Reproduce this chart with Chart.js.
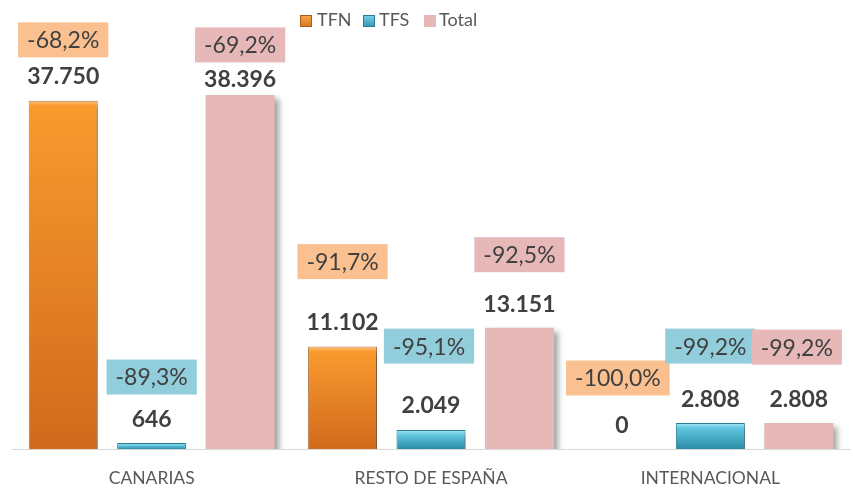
<!DOCTYPE html>
<html><head><meta charset="utf-8">
<script src="https://cdn.jsdelivr.net/npm/chart.js@4/dist/chart.umd.min.js"></script>
<style>html,body{margin:0;padding:0;background:#fff}#wrap{width:853px;height:488px;position:relative}</style>
</head><body><div id="wrap"><canvas id="c"></canvas></div>
<script>
// ---- data ----
const categories = ['CANARIAS', 'RESTO DE ESPAÑA', 'INTERNACIONAL'];
const seriesNames = ['TFN', 'TFS', 'Total'];
const tfnValues = [37750, 11102, 0];
const tfsValues = [646, 2049, 2808];
const totalValues = [38396, 13151, 2808];
const tfnChange = ['-68,2%', '-91,7%', '-100,0%'];
const tfsChange = ['-89,3%', '-95,1%', '-99,2%'];
const totalChange = ['-69,2%', '-92,5%', '-99,2%'];

// ---- label layout (px lifts, manual placement as in reference) ----
const valueLift = [[24, 24, 23], [23, 25, 24], [15, 23, 24]];
const boxGap = [[37, 61, 48], [43, 59, 53], [35, 50, 52]];
const boxShiftX = [[0, 0, -4], [0, -2, 0], [0, 0, -2]];
const boxColors = ['#FAC090', '#92CDDC', '#E6B9B8'];
const changes = [tfnChange, tfsChange, totalChange];

const FONT = 'Lato, "Liberation Sans", sans-serif';

function barGrad(stops, fallback) {
  return function (ctx) {
    const chart = ctx.chart;
    if (!chart.chartArea || ctx.raw === undefined) return fallback;
    const y = chart.scales.y;
    const top = y.getPixelForValue(ctx.raw), bot = y.getPixelForValue(0);
    const h = bot - top;
    if (h < 1) return fallback;
    const g = chart.ctx.createLinearGradient(0, top, 0, bot);
    g.addColorStop(0, stops[0]);
    g.addColorStop(Math.min(0.45, 5 / h), stops[1]);
    g.addColorStop(1, stops[2]);
    return g;
  };
}

const shadowPlugin = {
  id: 'shadow',
  beforeDatasetsDraw(chart) {
    const c = chart.ctx;
    c.save();
    c.shadowColor = 'rgba(0,0,0,0.38)';
    c.shadowBlur = 6;
    c.shadowOffsetX = 4;
    c.shadowOffsetY = 4;
  },
  afterDatasetsDraw(chart) { chart.ctx.restore(); }
};

function fmt(v) {
  return String(v).replace(/\B(?=(\d{3})+(?!\d))/g, '.');
}

const labelPlugin = {
  id: 'labels',
  afterDraw(chart) {
    const c = chart.ctx;
    c.save();
    chart.data.datasets.forEach((ds, d) => {
      const meta = chart.getDatasetMeta(d);
      meta.data.forEach((el, i) => {
        const vy = el.y - valueLift[d][i];
        c.font = 'bold 23px ' + FONT;
        c.fillStyle = '#404040';
        c.textAlign = 'center';
        c.textBaseline = 'middle';
        c.fillText(fmt(ds.data[i]), el.x, vy);
        const txt = changes[d][i];
        c.font = '23px ' + FONT;
        const w = c.measureText(txt).width + 18;
        const bh = 35;
        const by = vy - boxGap[d][i];
        const bx = el.x + boxShiftX[d][i];
        c.fillStyle = boxColors[d];
        c.fillRect(bx - w / 2, by - bh / 2, w, bh);
        c.fillStyle = '#404040';
        c.fillText(txt, bx, by + 1);
      });
    });
    // legend
    const items = [
      { x: 300, tx: 317, text: seriesNames[0], fill: ['#F8A850', '#D9741E'], stroke: '#A85A18' },
      { x: 363, tx: 379, text: seriesNames[1], fill: ['#7FD3EA', '#2E93B0'], stroke: '#2A7F96' },
      { x: 424, tx: 439, text: seriesNames[2], fill: ['#E6B9B8', '#E6B9B8'], stroke: null }
    ];
    c.font = '18px ' + FONT;
    c.textAlign = 'left';
    c.textBaseline = 'middle';
    items.forEach(it => {
      const g = c.createLinearGradient(0, 15, 0, 27);
      g.addColorStop(0, it.fill[0]); g.addColorStop(1, it.fill[1]);
      c.fillStyle = g;
      c.fillRect(it.x, 15, 12, 12);
      if (it.stroke) { c.strokeStyle = it.stroke; c.lineWidth = 1; c.strokeRect(it.x + 0.5, 15.5, 11, 11); }
      c.fillStyle = '#595959';
      c.fillText(it.text, it.tx, 20);
    });
    c.restore();
  }
};

new Chart(document.getElementById('c'), {
  type: 'bar',
  data: {
    labels: categories,
    datasets: [
      { label: seriesNames[0], data: tfnValues,
        backgroundColor: barGrad(['#FDC07A', '#F99A2E', '#D06A1C'], '#E8841F'),
        borderColor: 'rgba(160,85,20,0.75)', borderWidth: 1 },
      { label: seriesNames[1], data: tfsValues,
        backgroundColor: barGrad(['#A8E6F5', '#5FC6E0', '#2C8CA8'], '#4BACC6'),
        borderColor: '#2A7F96', borderWidth: 1 },
      { label: seriesNames[2], data: totalValues,
        backgroundColor: '#E6B9B8', borderWidth: 0 }
    ]
  },
  options: {
    responsive: true,
    maintainAspectRatio: false,
    animation: false,
    devicePixelRatio: 1,
    layout: { padding: { top: 34, left: 12, right: 3, bottom: -20 } },
    datasets: { bar: { categoryPercentage: 0.95, barPercentage: 0.78 } },
    plugins: { legend: { display: false }, tooltip: { enabled: false } },
    scales: {
      x: {
        grid: { display: false, drawTicks: false },
        border: { display: true, color: '#D9D9D9', width: 1 },
        ticks: { color: '#595959', font: { family: FONT, size: 17.5 }, padding: 19 }
      },
      y: { display: false, min: 0, max: 45000 }
    }
  },
  plugins: [shadowPlugin, labelPlugin]
});
</script>
</body></html>
